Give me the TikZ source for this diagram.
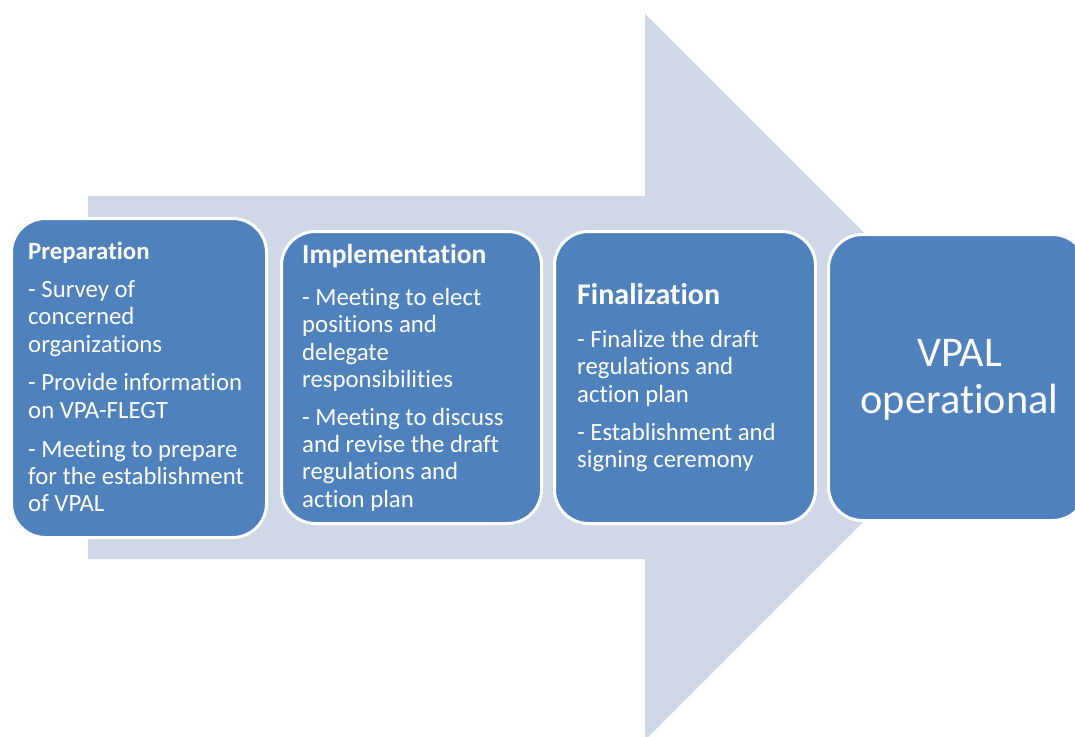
\documentclass[tikz,border=0pt]{standalone}
\usepackage{fontspec}
\setmainfont{Carlito}[RawFeature={-liga;-clig}]
\definecolor{stepblue}{HTML}{4F81BD}
\definecolor{arrowgrey}{HTML}{D0D8E8}
\tikzset{
  stage/.style={draw=white, line width=3pt, fill=stepblue, rounded corners=34pt, inner sep=0pt},
  stagetext/.style={anchor=west, align=left, text=white, inner sep=0pt,
    font=\fontsize{24.8pt}{27.3pt}\selectfont},
  goaltext/.style={align=center, text=white, inner sep=0pt,
    font=\fontsize{42.3pt}{47pt}\selectfont},
}
\begin{document}
\begin{tikzpicture}[x=1pt,y=-1pt]
\useasboundingbox (0,0) rectangle (1075,736);
\clip (0,0) rectangle (1075,736);

% big background arrow
\fill[arrowgrey] (88,196) -- (645,196) -- (645,14) -- (1008,377)
  -- (645,740) -- (645,559) -- (88,559) -- cycle;

% stage boxes
\node[stage, minimum width=255pt, minimum height=319pt] (prep) at (139,378) {};
\node[stage, minimum width=260pt, minimum height=292pt] (impl) at (411.5,377.5) {};
\node[stage, minimum width=261pt, minimum height=292pt] (fin) at (685,377.5) {};
\node[stage, minimum width=258pt, minimum height=286pt] (goal) at (957.5,377.5) {};

% stage texts
\node[stagetext] (prept) at ([xshift=18pt,yshift=1pt]prep.west)
  {{\bfseries Preparation}\\[10.7pt]
   - Survey of\\ concerned\\ organizations\\[11.5pt]
   - Provide information\\ on VPA-FLEGT\\[11.5pt]
   - Meeting to prepare\\ for the establishment\\ of VPAL};
\node[stagetext] (implt) at ([xshift=22pt]impl.west)
  {{\fontsize{27.5pt}{30pt}\selectfont\bfseries Implementation}\\[15pt]
   - Meeting to elect\\ positions and\\ delegate\\ responsibilities\\[10.7pt]
   - Meeting to discuss\\ and revise the draft\\ regulations and\\ action plan};
\node[stagetext] (fint) at ([xshift=24pt]fin.west)
  {{\fontsize{30pt}{32pt}\selectfont\bfseries Finalization}\\[16pt]
   - Finalize the draft\\ regulations and\\ action plan\\[10.7pt]
   - Establishment and\\ signing ceremony};
\node[goaltext] (goalt) at ([xshift=2pt,yshift=-2.5pt]goal.center) {VPAL\\ operational};
\end{tikzpicture}
\end{document}
